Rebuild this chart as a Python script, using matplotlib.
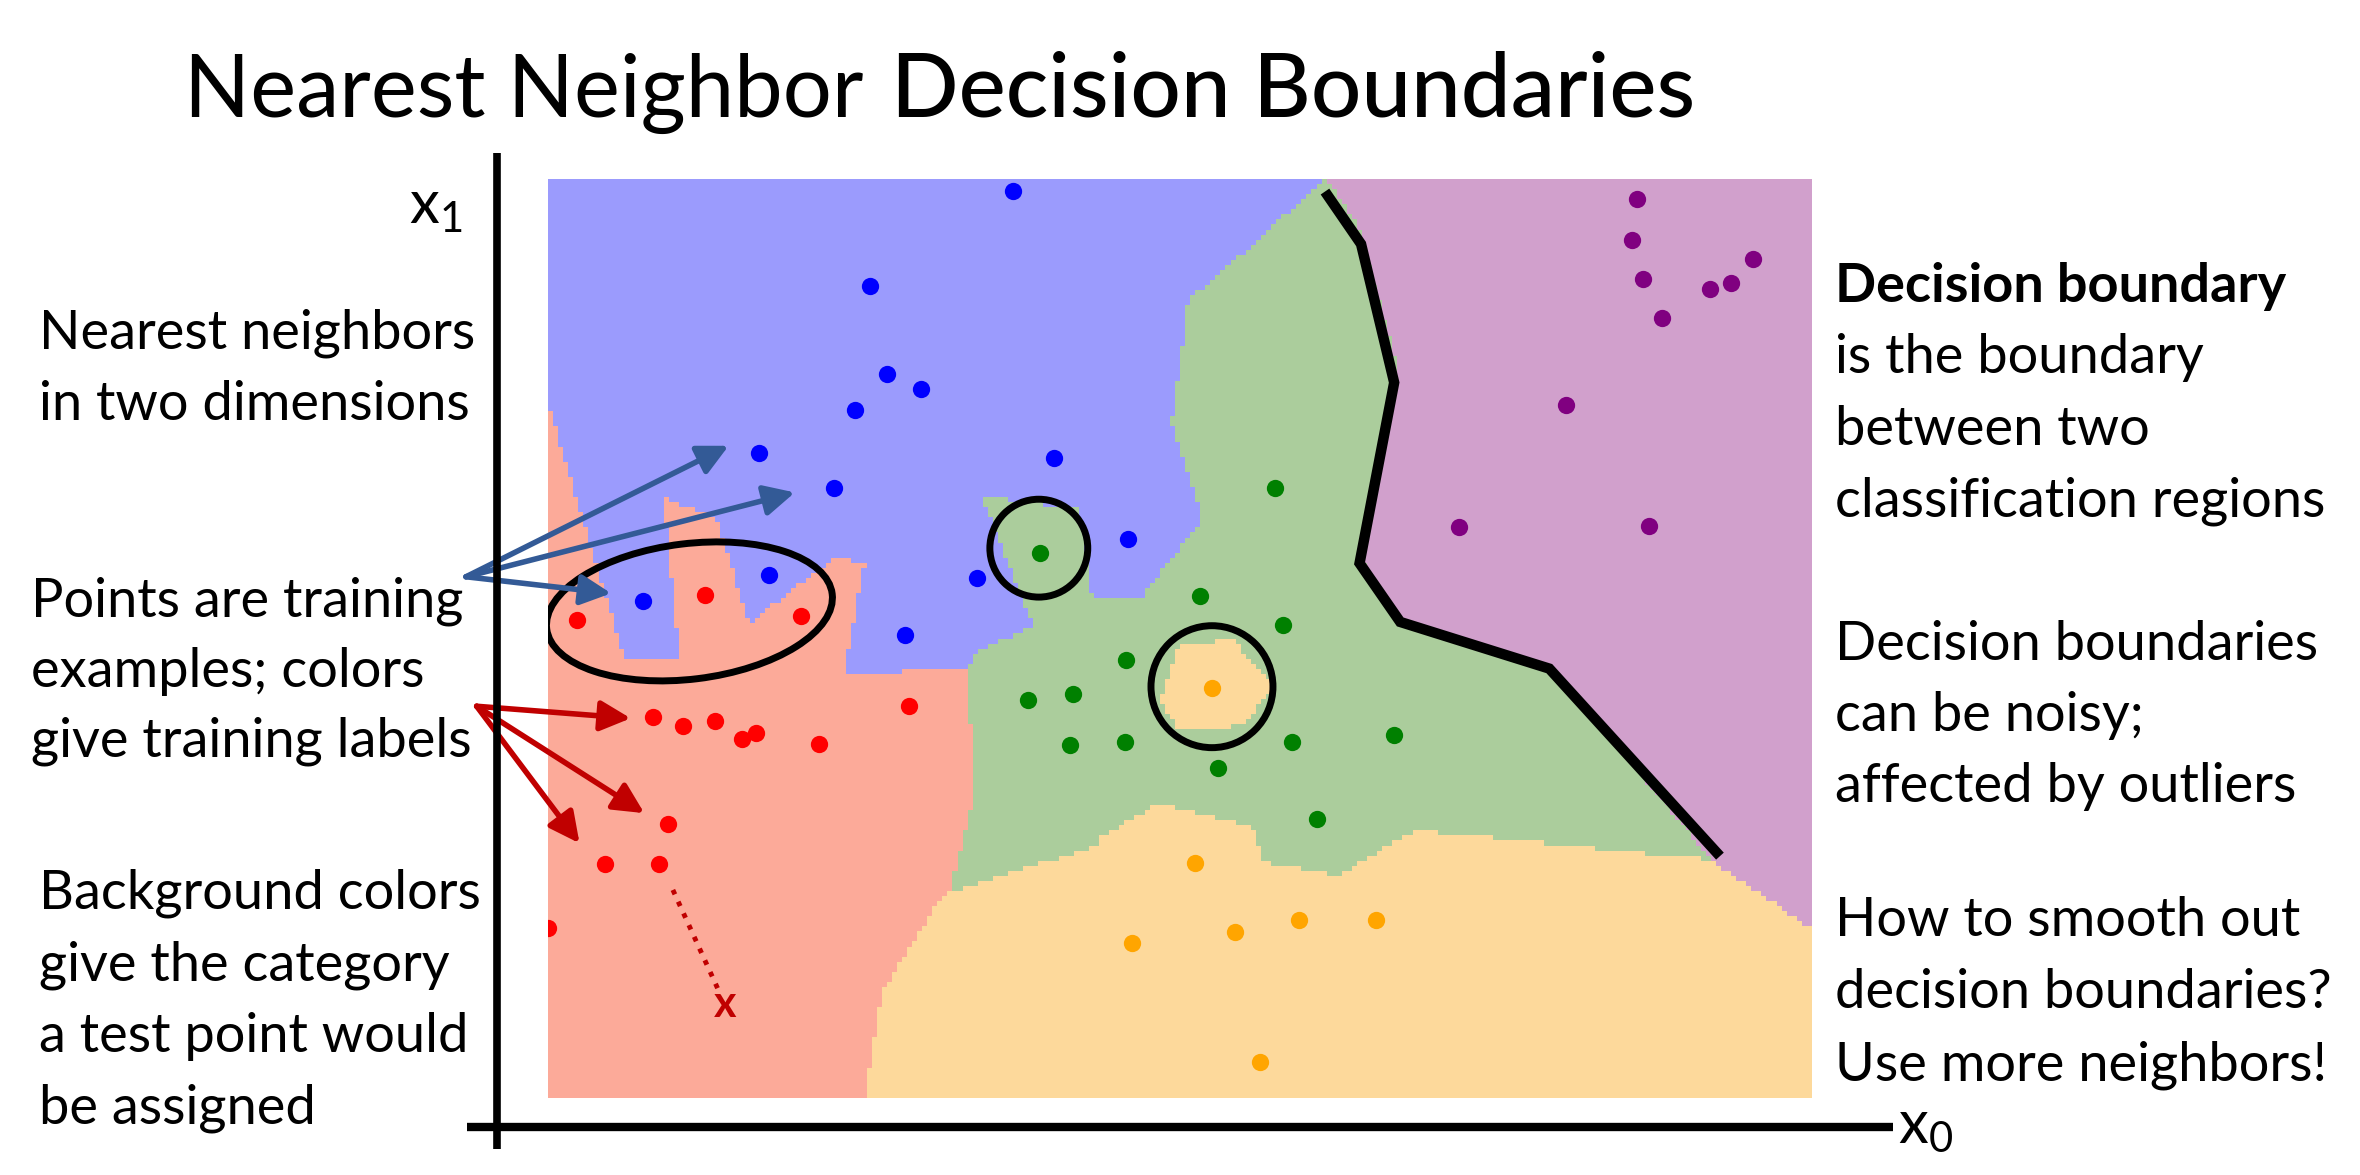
import numpy as np
import matplotlib
matplotlib.use('Agg')
from matplotlib import pyplot as plt
from matplotlib.colors import ListedColormap
from matplotlib.patches import Ellipse
from matplotlib.lines import Line2D

plt.rcParams['font.family'] = ['Lato', 'DejaVu Sans']
plt.rcParams['mathtext.fontset'] = 'custom'
plt.rcParams['mathtext.rm'] = 'Lato'
plt.rcParams['mathtext.it'] = 'Lato'

# training examples, (x0, x1)
blue_pts = [(3.09, 6.02), (2.14, 5.39), (2.25, 4.81), (2.48, 4.71), (2.04, 4.57),
            (1.40, 4.28), (3.36, 4.25), (1.90, 4.05), (3.85, 3.71), (2.85, 3.45),
            (1.47, 3.47), (0.63, 3.30), (2.37, 3.07)]
red_pts = [(1.04, 3.34), (0.19, 3.17), (1.68, 3.20), (2.40, 2.60), (0.70, 2.53),
           (0.90, 2.47), (1.11, 2.50), (1.38, 2.42), (1.29, 2.38), (1.80, 2.35),
           (0.80, 1.82), (0.38, 1.55), (0.74, 1.55), (0.00, 1.13)]
green_pts = [(3.27, 3.62), (4.33, 3.33), (4.83, 4.05), (4.88, 3.14), (3.84, 2.91),
             (3.19, 2.64), (3.49, 2.68), (3.47, 2.34), (3.83, 2.36), (4.45, 2.19),
             (4.94, 2.36), (5.62, 2.41), (5.11, 1.85)]
orange_pts = [(4.41, 2.72), (4.30, 1.56), (3.88, 1.03), (4.56, 1.10), (4.99, 1.18),
              (5.50, 1.18), (4.73, 0.24)]
purple_pts = [(7.23, 5.97), (7.20, 5.70), (7.27, 5.44), (8.00, 5.57), (7.86, 5.41),
              (7.72, 5.37), (7.40, 5.18), (6.76, 4.60), (6.05, 3.79), (7.31, 3.80)]

dot_colors = ['#0000ff', '#ff0000', '#008000', '#ffa500', '#800080']
region_colors = ['#9b9bfd', '#fcaa99', '#abcd9c', '#fdd99b', '#d1a0cc']

# hand drawn purple/green decision boundary
boundary_x = [5.18, 5.40, 5.62, 5.39, 5.66, 6.65, 7.76]
boundary_y = [5.99, 5.67, 4.75, 3.55, 3.16, 2.85, 1.63]

test_pt = (1.18, 0.62)

W, H = 2360, 1175


def px(x, y):
    # slide pixel -> figure fraction
    return x / W, 1 - y / H


fig = plt.figure(figsize=(W / 100, H / 100), dpi=100)
ax = fig.add_axes([547.9 / W, 1 - 1097.7 / H, 1263.4 / W, 918.4 / H])
x_lo, x_hi, y_lo, y_hi = 0, 8.39, 0, 6.10

# 1-nearest-neighbour background on a coarse grid
groups = [blue_pts, red_pts, green_pts, orange_pts, purple_pts]
pts = np.array([p for g in groups for p in g])
labels = np.repeat(np.arange(5), [len(g) for g in groups])
nx, ny = 250, 182
cx = x_lo + (np.arange(nx) + 0.5) * (x_hi - x_lo) / nx
cy = y_lo + (np.arange(ny) + 0.5) * (y_hi - y_lo) / ny
xx, yy = np.meshgrid(cx, cy)
d = (xx[..., None] - pts[:, 0]) ** 2 + (yy[..., None] - pts[:, 1]) ** 2
grid = labels[d.argmin(-1)]
ax.imshow(grid, origin='lower', extent=(x_lo, x_hi, y_lo, y_hi),
          cmap=ListedColormap(region_colors), vmin=-0.5, vmax=4.5,
          interpolation='nearest', aspect='auto')

for g, c in zip(groups, dot_colors):
    g = np.array(g)
    ax.scatter(g[:, 0], g[:, 1], s=155, color=c, linewidths=0, zorder=3)

ax.set_xlim(x_lo, x_hi)
ax.set_ylim(y_lo, y_hi)
ax.axis('off')

# circled outliers
ax.add_patch(Ellipse((0.94, 3.23), 1.91, 0.90, angle=7, fill=False, lw=5, ec='k', zorder=4))
ax.add_patch(Ellipse((3.26, 3.65), 0.65, 0.65, fill=False, lw=5, ec='k', zorder=4))
ax.add_patch(Ellipse((4.41, 2.73), 0.81, 0.81, fill=False, lw=5, ec='k', zorder=4))

ax.plot(boundary_x, boundary_y, color='k', lw=7.5, solid_joinstyle='miter', zorder=4)

# test point and its nearest neighbour
ax.plot([0.83, 1.13], [1.38, 0.72], color='#c00000', lw=3.5, ls=':', zorder=4)
ax.text(test_pt[0], test_pt[1], 'x', color='#c00000', fontsize=31, fontweight='bold',
        ha='center', va='center', zorder=4)

# callout arrows
blue_heads = [(1.20, 4.33), (1.64, 4.02), (0.42, 3.35)]
red_heads = [(0.55, 2.52), (0.64, 1.89), (0.21, 1.69)]
for heads, origin, col in [(blue_heads, (-0.544, 3.46), '#335a96'),
                           (red_heads, (-0.473, 2.60), '#c00000')]:
    for h in heads:
        ax.annotate('', xy=h, xytext=origin, annotation_clip=False,
                    arrowprops=dict(arrowstyle='-|>', color=col, lw=4,
                                    mutation_scale=46, shrinkA=0, shrinkB=0),
                    zorder=5)

# slide axes
fig.add_artist(Line2D([497 / W, 497 / W], [1 - 153 / H, 1 - 1149 / H],
                      color='k', lw=5.5, solid_capstyle='butt'))
fig.add_artist(Line2D([467 / W, 1893 / W], [1 - 1126.7 / H, 1 - 1126.7 / H],
                      color='k', lw=6, solid_capstyle='butt'))
fig.text(*px(409, 224), r'$\mathregular{x_1}$', fontsize=43, va='baseline')
fig.text(*px(1898, 1144), r'$\mathregular{x_0}$', fontsize=43, va='baseline')

# title
fig.text(*px(184, 116.7), 'Nearest Neighbor', fontsize=62.5, va='baseline')
fig.text(*px(891, 116.7), 'Decision Boundaries', fontsize=64, fontweight='medium',
         va='baseline')

FS = 39
left_lines = [(39, 348, 'Nearest neighbors'), (39, 420, 'in two dimensions'),
              (31, 616, 'Points are training'), (31, 686.5, 'examples; colors'),
              (31, 757, 'give training labels'),
              (39, 908.5, 'Background colors'), (39, 980, 'give the category'),
              (39, 1051.7, 'a test point would'), (39, 1123.3, 'be assigned')]
for x, y, s in left_lines:
    fig.text(*px(x, y), s, fontsize=FS, va='baseline')

right_lines = [(301.7, 'Decision boundary'), (373.3, 'is the boundary'),
               (445, 'between two'), (516.7, 'classification regions'),
               (660, 'Decision boundaries'), (731, 'can be noisy;'),
               (802, 'affected by outliers'),
               (936, 'How to smooth out'), (1008, 'decision boundaries?'),
               (1080, 'Use more neighbors!')]
for i, (y, s) in enumerate(right_lines):
    fig.text(*px(1835, y), s, fontsize=FS, va='baseline',
             fontweight='bold' if i == 0 else 'normal')

fig.savefig('out.png', dpi=100)
